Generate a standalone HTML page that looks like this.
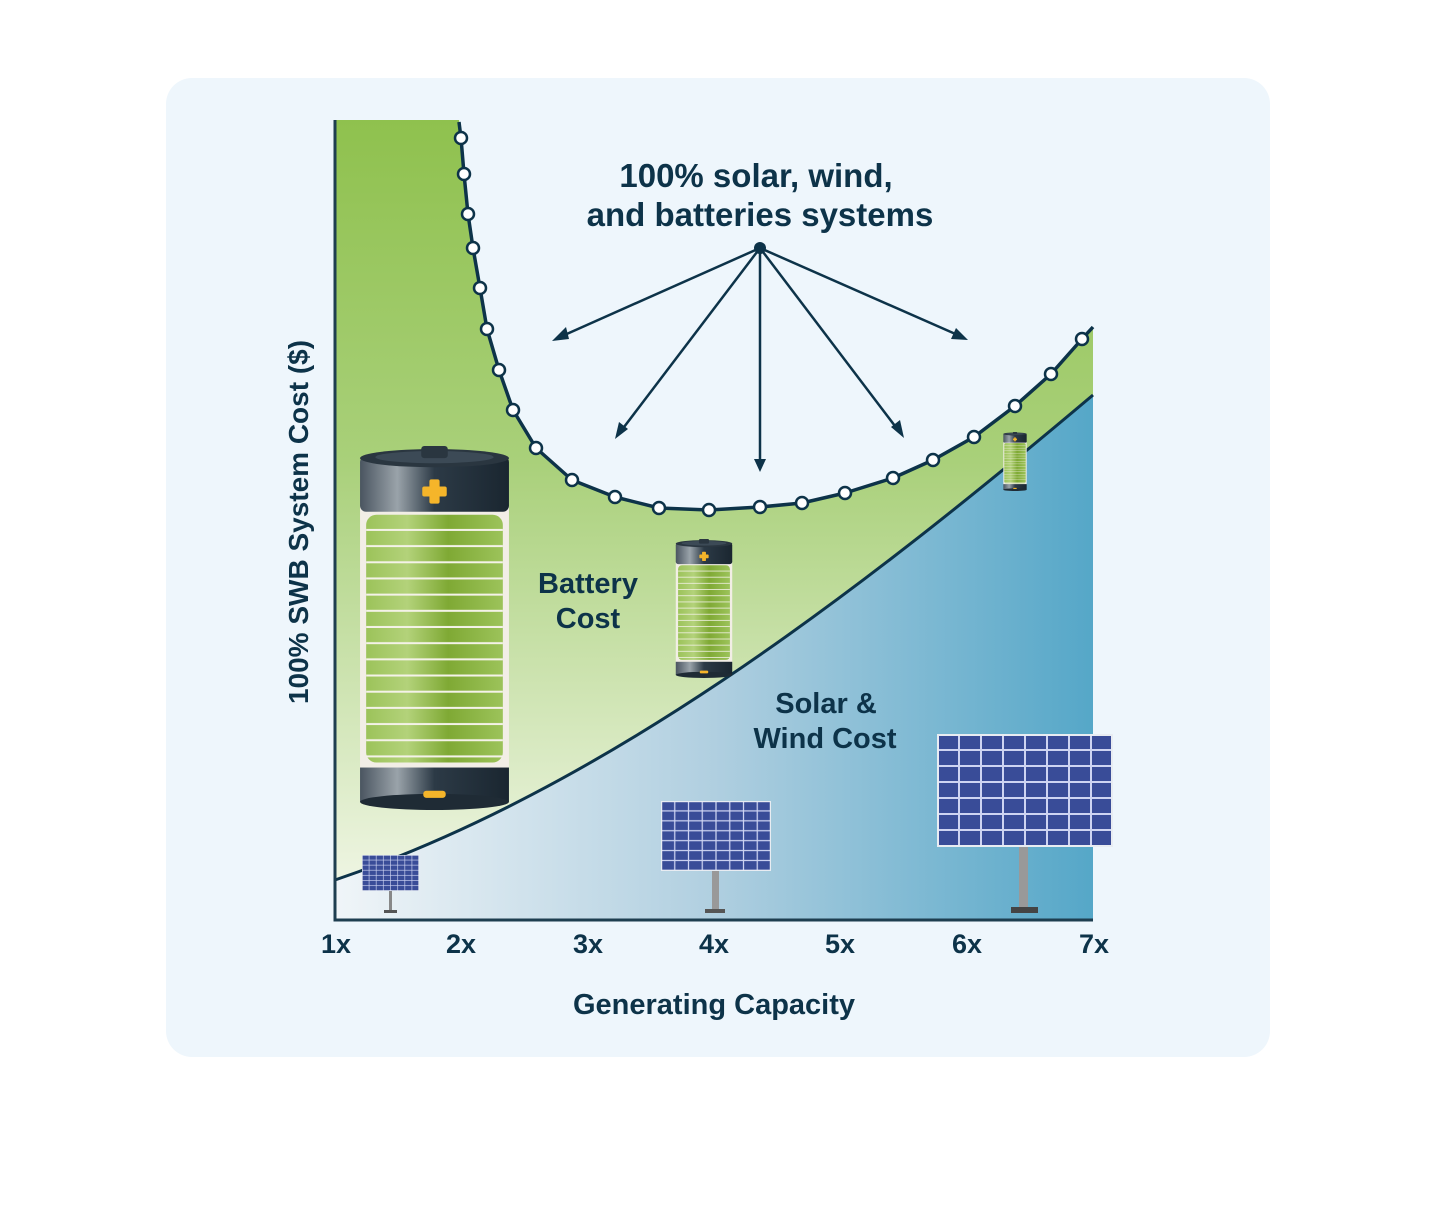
<!DOCTYPE html>
<html><head><meta charset="utf-8"><style>
html,body{margin:0;padding:0;background:#fff;}
svg{display:block;}
text{font-family:"Liberation Sans",sans-serif;font-weight:bold;fill:#0d3349;}
</style></head><body>
<svg width="1434" height="1222" viewBox="0 0 1434 1222" xmlns="http://www.w3.org/2000/svg">
<defs>
<linearGradient id="gg" x1="0" y1="0" x2="0" y2="1">
<stop offset="0" stop-color="#8fc14e"/><stop offset="0.45" stop-color="#a9d07a"/><stop offset="1" stop-color="#eef5e2"/></linearGradient>
<linearGradient id="bg" x1="0" y1="0" x2="1" y2="0">
<stop offset="0" stop-color="#f0f5f8"/><stop offset="0.5" stop-color="#b0cfe0"/><stop offset="1" stop-color="#55a7c8"/></linearGradient>
<linearGradient id="cap" x1="0" y1="0" x2="1" y2="0">
<stop offset="0" stop-color="#4a5560"/><stop offset="0.25" stop-color="#9aa3aa"/><stop offset="0.5" stop-color="#2c3a46"/><stop offset="1" stop-color="#1a2630"/></linearGradient>
<linearGradient id="cell" x1="0" y1="0" x2="1" y2="0">
<stop offset="0" stop-color="#9cc35a"/><stop offset="0.3" stop-color="#b3d27a"/><stop offset="0.6" stop-color="#7fa934"/><stop offset="1" stop-color="#9cc35a"/></linearGradient>
<pattern id="stripes" x="0" y="4" width="10" height="16" patternUnits="userSpaceOnUse">
<rect x="0" y="14" width="10" height="2" fill="#f4f2e8"/></pattern>
<symbol id="batt" viewBox="0 0 150 360" preserveAspectRatio="none">
<rect x="2" y="60" width="146" height="260" fill="#f2eee6"/>
<rect x="8" y="68" width="134" height="245" rx="10" fill="url(#cell)"/>
<rect x="8" y="72" width="134" height="238" fill="url(#stripes)"/>
<rect x="2" y="10" width="146" height="55" rx="6" fill="url(#cap)"/>
<ellipse cx="75" cy="12" rx="73" ry="9" fill="#2a3640"/>
<ellipse cx="75" cy="11" rx="58" ry="6" fill="#3c4a56"/>
<rect x="62" y="0" width="26" height="12" rx="3" fill="#2a3640"/>
<rect x="2" y="318" width="146" height="34" fill="url(#cap)"/>
<ellipse cx="75" cy="352" rx="73" ry="8" fill="#1f2b35"/>
<rect x="70" y="33" width="10" height="24" rx="2" fill="#f5b52a"/>
<rect x="63" y="40" width="24" height="10" rx="2" fill="#f5b52a"/>
<rect x="64" y="341" width="22" height="7" rx="3" fill="#f5b52a"/>
</symbol>
<pattern id="pc" width="22" height="16" patternUnits="userSpaceOnUse">
<rect width="22" height="16" fill="#eef"/><rect x="1" y="1" width="20" height="14" fill="#34448f"/></pattern>
<symbol id="panel" viewBox="0 0 176 113" preserveAspectRatio="none">
<rect x="0" y="0" width="176" height="113" fill="#e8ecf2"/>
<rect x="2" y="2" width="172" height="109" fill="url(#pc)"/>
<rect x="2" y="2" width="172" height="109" fill="#5070c0" opacity="0.2"/>
</symbol>
</defs>
<rect x="166" y="78" width="1104" height="979" rx="26" fill="#eef6fc"/>
<!-- blue -->
<path d="M335,880 C600,790 850,600 1093,395 L1093,920 L335,920 Z" fill="url(#bg)"/>
<!-- green -->
<path d="M335,120 L459,120 L461,138 L464,174 L468,214 L473,248 L480,288 L487,329 L499,370 L513,410 L536,448 L572,480 L615,497 L659,508 L709,510 L760,507 L802,503 L845,493 L893,478 L933,460 L974,437 L1015,406 L1051,374 L1082,339 L1093,327 L1093,395 C850,600 600,790 335,880 Z" fill="url(#gg)"/>
<path d="M335,880 C600,790 850,600 1093,395" fill="none" stroke="#0d3349" stroke-width="3"/>
<path d="M459,122 L461,138 L464,174 L468,214 L473,248 L480,288 L487,329 L499,370 L513,410 L536,448 L572,480 L615,497 L659,508 L709,510 L760,507 L802,503 L845,493 L893,478 L933,460 L974,437 L1015,406 L1051,374 L1082,339 L1093,327" fill="none" stroke="#0d3349" stroke-width="3.5" stroke-linejoin="round"/>
<g fill="#fff" stroke="#0d3349" stroke-width="2.5">
<circle cx="461" cy="138" r="6"/><circle cx="464" cy="174" r="6"/><circle cx="468" cy="214" r="6"/><circle cx="473" cy="248" r="6"/><circle cx="480" cy="288" r="6"/><circle cx="487" cy="329" r="6"/><circle cx="499" cy="370" r="6"/><circle cx="513" cy="410" r="6"/><circle cx="536" cy="448" r="6"/><circle cx="572" cy="480" r="6"/><circle cx="615" cy="497" r="6"/><circle cx="659" cy="508" r="6"/><circle cx="709" cy="510" r="6"/><circle cx="760" cy="507" r="6"/><circle cx="802" cy="503" r="6"/><circle cx="845" cy="493" r="6"/><circle cx="893" cy="478" r="6"/><circle cx="933" cy="460" r="6"/><circle cx="974" cy="437" r="6"/><circle cx="1015" cy="406" r="6"/><circle cx="1051" cy="374" r="6"/><circle cx="1082" cy="339" r="6"/>
</g>
<!-- axes -->
<path d="M335,120 L335,920 L1093,920" fill="none" stroke="#1e3e50" stroke-width="3"/>
<!-- arrows -->
<g stroke="#0d3349" stroke-width="2.5" fill="none">
<line x1="760" y1="248" x2="560" y2="337"/><line x1="760" y1="248" x2="621" y2="431"/><line x1="760" y1="248" x2="760" y2="462"/><line x1="760" y1="248" x2="898" y2="430"/><line x1="760" y1="248" x2="960" y2="336"/>
</g>
<circle cx="760" cy="248" r="6" fill="#0d3349"/>
<g fill="#0d3349">
<polygon points="552,341 566,327 569,339"/>
<polygon points="615,439 619,422 628,429"/>
<polygon points="760,472 754,459 766,459"/>
<polygon points="904,438 891,427 900,420"/>
<polygon points="968,340 951,339 956,328"/>
</g>
<!-- batteries -->
<use href="#batt" x="358" y="446" width="153" height="364"/>
<use href="#batt" x="675" y="539" width="58" height="139"/>
<use href="#batt" x="1003" y="432" width="24" height="59"/>
<!-- panels -->
<rect x="389" y="888" width="3" height="24" fill="#888"/><rect x="384" y="910" width="13" height="3" fill="#555"/>
<use href="#panel" x="362" y="855" width="57" height="36"/>
<rect x="712" y="868" width="7" height="44" fill="#999"/><rect x="705" y="909" width="20" height="4" fill="#555"/>
<use href="#panel" x="661" y="801" width="110" height="70"/>
<rect x="1019" y="846" width="9" height="64" fill="#999"/><rect x="1011" y="907" width="27" height="6" fill="#444"/>
<use href="#panel" x="937" y="734" width="176" height="113"/>
<!-- text -->
<text x="756" y="187" font-size="33" text-anchor="middle">100% solar, wind,</text>
<text x="760" y="226" font-size="33" text-anchor="middle">and batteries systems</text>
<text x="588" y="593" font-size="29" text-anchor="middle">Battery</text>
<text x="588" y="628" font-size="29" text-anchor="middle">Cost</text>
<text x="826" y="713" font-size="29" text-anchor="middle">Solar &amp;</text>
<text x="825" y="748" font-size="29" text-anchor="middle">Wind Cost</text>
<g font-size="27" text-anchor="middle">
<text x="336" y="953">1x</text><text x="461" y="953">2x</text><text x="588" y="953">3x</text><text x="714" y="953">4x</text><text x="840" y="953">5x</text><text x="967" y="953">6x</text><text x="1094" y="953">7x</text>
</g>
<text x="714" y="1014" font-size="29" text-anchor="middle">Generating Capacity</text>
<text transform="translate(308,522) rotate(-90)" font-size="28" text-anchor="middle">100% SWB System Cost ($)</text>
</svg>
</body></html>
